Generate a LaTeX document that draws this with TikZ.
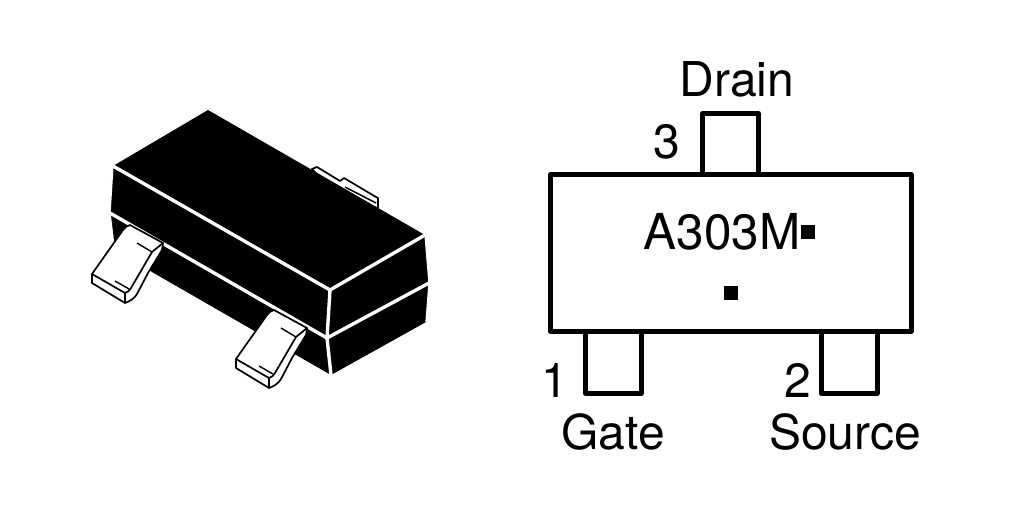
\documentclass[tikz,border=0pt]{standalone}
\usepackage{fontspec}
\setmainfont{TeX Gyre Heros}
\tikzset{
	pinline/.style={draw=black,fill=white,line width=1.7,line join=round},
	slit/.style={draw=white,line width=3.4,line join=round},
	thinslit/.style={draw=white,line width=1.3},
	outline/.style={draw=black,line width=5,line join=round},
	label/.style={inner sep=0pt,anchor=base,font=\fontsize{48}{50}\selectfont},
	dot/.style={fill=black}
}
\begin{document}
\begin{tikzpicture}[x=1pt,y=-1pt]
	\useasboundingbox (0,0) rectangle (1024,512);
	% back pin
	\draw[pinline] (312,169) -- (317,167) -- (340,181) -- (344,178) -- (376,197) -- (378,198) -- (378,208) -- (340,200) -- cycle;
	\draw[line width=1.5] (345,187) -- (376,203);
	% body
	\fill[black] (208,110) -- (425,235) -- (429,283) -- (426,322) -- (331,375) -- (152,272) -- (114,246) -- (110,213) -- (113,166) -- cycle;
	\draw[slit] (113,166) -- (330,290) -- (425,235);
	\draw[slit] (110,213) -- (327,338) -- (429,283);
	\draw[slit] (330,290) -- (327,338) -- (331,375);
	\draw[thinslit] (425,235) -- (429,283) -- (426,322);
	\draw[thinslit] (113,166) -- (110,213) -- (114,246);
	% front pins
	\foreach \dx/\dy in {0/0,144/85}{
		\begin{scope}[shift={(\dx,\dy)}]
			\draw[pinline] (130,225) -- (163,243) -- (162,250) -- (148,273) -- (137,294) .. controls (134,299) and (130,301) .. (125,303) -- (92,283) -- (92,274) -- (123,230) .. controls (125,227) and (127,226) .. (130,225) -- cycle;
			\draw[pinline,fill=none] (92,274) -- (125,293) -- (125,303);
			\draw[pinline,fill=none] (125,293) .. controls (128,292) and (129,291) .. (131,288) -- (152,252) -- (163,243);
			\draw[line width=1.4] (137,243) -- (152,252);
			\draw[line width=1.4] (115,281) -- (129,289);
		\end{scope}
	}
	% top view
	\draw[outline] (702.5,174.5) -- (702.5,113.5) -- (758.5,113.5) -- (758.5,174.5);
	\foreach \x in {585.5,821.5}{
		\draw[outline] (\x,331.5) -- (\x,393.5) -- (\x+55.5,393.5) -- (\x+55.5,331.5);
	}
	\draw[outline] (550.5,174.5) rectangle (911,331.5);
	\fill[dot] (801,225) rectangle (815,239);
	\fill[dot] (724,286) rectangle (738,300);
	\node[label] (drain) at (737,96.5) {Drain};
	\node[label] (three) at (667,158) {3};
	\node[label,font=\fontsize{49.5}{50}\selectfont] (marking) at (722,249) {A303M};
	\node[label] (one) at (555,397.5) {1};
	\node[label] (two) at (798,397.5) {2};
	\node[label] (gate) at (613,449.5) {Gate};
	\node[label] (source) at (845,449.5) {Source};
\end{tikzpicture}
\end{document}
